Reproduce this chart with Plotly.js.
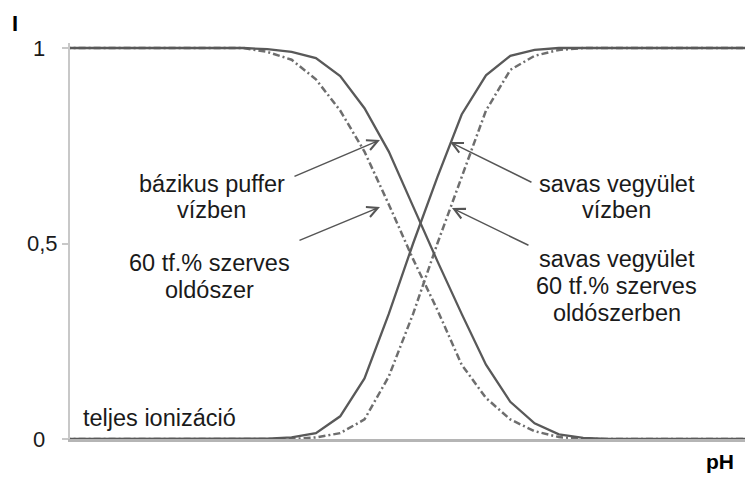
<!DOCTYPE html>
<html>
<head>
<meta charset="utf-8">
<script src="https://cdn.plot.ly/plotly-3.0.1.min.js"></script>
<style>
  html, body { margin: 0; padding: 0; background: #fff; }
  #chart { width: 745px; height: 477px; }
</style>
</head>
<body>
<div id="chart"></div>
<script>
// pH grid steps (arbitrary units, one step per sampled point)
var ph = [-1, 0, 1, 2, 3, 4, 5, 6, 7, 8, 9, 10, 11, 12, 13, 14,
          15, 16, 17, 18, 19, 20, 21, 22, 23, 24, 25, 26, 27, 28];

// ionised fraction I for each series
var bazikusViz = [1, 1, 1, 1, 1, 1, 1, 1, 1, 0.997, 0.99, 0.974, 0.928, 0.846, 0.735, 0.595,
                  0.455, 0.32, 0.19, 0.095, 0.04, 0.012, 0.003, 0, 0, 0, 0, 0, 0, 0];
var bazikusSzerves = [1, 1, 1, 1, 1, 1, 1, 1, 1, 0.99, 0.97, 0.92, 0.84, 0.735, 0.60, 0.46,
                      0.33, 0.19, 0.105, 0.05, 0.02, 0.005, 0, 0, 0, 0, 0, 0, 0, 0];
var savasViz = [0, 0, 0, 0, 0, 0, 0, 0, 0, 0.001, 0.004, 0.015, 0.058, 0.155, 0.32, 0.50,
                0.67, 0.83, 0.93, 0.98, 0.995, 1, 1, 1, 1, 1, 1, 1, 1, 1];
var savasSzerves = [0, 0, 0, 0, 0, 0, 0, 0, 0, 0, 0, 0.004, 0.015, 0.05, 0.16, 0.32,
                    0.50, 0.67, 0.84, 0.944, 0.98, 0.995, 1, 1, 1, 1, 1, 1, 1, 1];

var yTickVals = [0, 0.5, 1];
var yTickText = ['0\u2007', '0,5', '1\u2007'];

// pixel -> data helpers for label placement
function X(px) { return (px - 70) / 24.3 - 0.12; }
function Y(py) { return (439 - py) / 391; }

var solid = {color: '#595959', width: 2.3};
var dashed = {color: '#6e6e6e', width: 2.5, dash: '7px,3px,2px,3px'};

var trace1 = {x: ph, y: bazikusSzerves, type: 'scatter', mode: 'lines', line: dashed, hoverinfo: 'none'};
var trace2 = {x: ph, y: savasSzerves, type: 'scatter', mode: 'lines', line: dashed, hoverinfo: 'none'};
var trace3 = {x: ph, y: bazikusViz, type: 'scatter', mode: 'lines', line: solid, hoverinfo: 'none'};
var trace4 = {x: ph, y: savasViz, type: 'scatter', mode: 'lines', line: solid, hoverinfo: 'none'};

var data = [trace1, trace2, trace3, trace4];

var fam = 'Liberation Sans, Arial, sans-serif';
var txtFont = {family: fam, size: 23.5, color: '#1a1a1a'};

function label(text, px, py, anchor) {
    return {
        text: text, x: X(px), y: Y(py), xref: 'x', yref: 'y',
        showarrow: false, xanchor: anchor || 'center', yanchor: 'middle', font: txtFont
    };
}

function arrow(hx, hy, tx, ty) {
    return {
        text: '', x: X(hx), y: Y(hy), ax: X(tx), ay: Y(ty),
        xref: 'x', yref: 'y', axref: 'x', ayref: 'y',
        showarrow: true, arrowhead: 5, arrowsize: 1.4, arrowwidth: 1.5,
        arrowcolor: '#555', standoff: 0, startstandoff: 0
    };
}

var annotations = [
    label('bázikus puffer', 212, 184),
    label('vízben', 212, 210),
    label('60 tf.% szerves', 210, 263),
    label('oldószer', 210, 290),
    label('savas vegyület', 617, 184),
    label('vízben', 617, 210),
    label('savas vegyület', 617, 259),
    label('60 tf.% szerves', 617, 286),
    label('oldószerben', 617, 313),
    label('teljes ionizáció', 81, 418, 'left'),
    arrow(380, 140, 293, 177),
    arrow(380, 207, 298, 241),
    arrow(450, 142, 533, 183),
    arrow(452, 208, 530, 246),
    {text: '<b>I</b>', xref: 'paper', yref: 'paper', x: -60 / 675, y: 1 + 19 / 396,
     xanchor: 'left', yanchor: 'middle', showarrow: false,
     font: {family: fam, size: 22, color: '#000'}},
    {text: '<b>pH</b>', xref: 'paper', yref: 'paper', x: 1, y: -36 / 396,
     xanchor: 'right', yanchor: 'bottom', showarrow: false, xshift: -9,
     font: {family: fam, size: 21, color: '#000'}}
];

var layout = {
    width: 745,
    height: 477,
    margin: {l: 70, r: 0, t: 43, b: 38},
    paper_bgcolor: '#fff',
    plot_bgcolor: '#fff',
    showlegend: false,
    font: txtFont,
    xaxis: {
        range: [-0.12, 27.66],
        showline: true, linecolor: '#b5b5b5', linewidth: 2.5,
        showgrid: false, zeroline: false, ticks: '', showticklabels: false,
        fixedrange: true
    },
    yaxis: {
        range: [0, 1.0128],
        showline: true, linecolor: '#c8c8c8', linewidth: 2,
        showgrid: false, zeroline: false,
        ticks: 'outside', ticklen: 6, tickwidth: 2, tickcolor: '#c8c8c8',
        tickvals: yTickVals, ticktext: yTickText,
        ticklabelstandoff: 0,
        tickfont: {family: fam, size: 22, color: '#1a1a1a'},
        fixedrange: true
    },
    annotations: annotations
};

Plotly.newPlot('chart', data, layout, {displayModeBar: false, staticPlot: true});
</script>
</body>
</html>
